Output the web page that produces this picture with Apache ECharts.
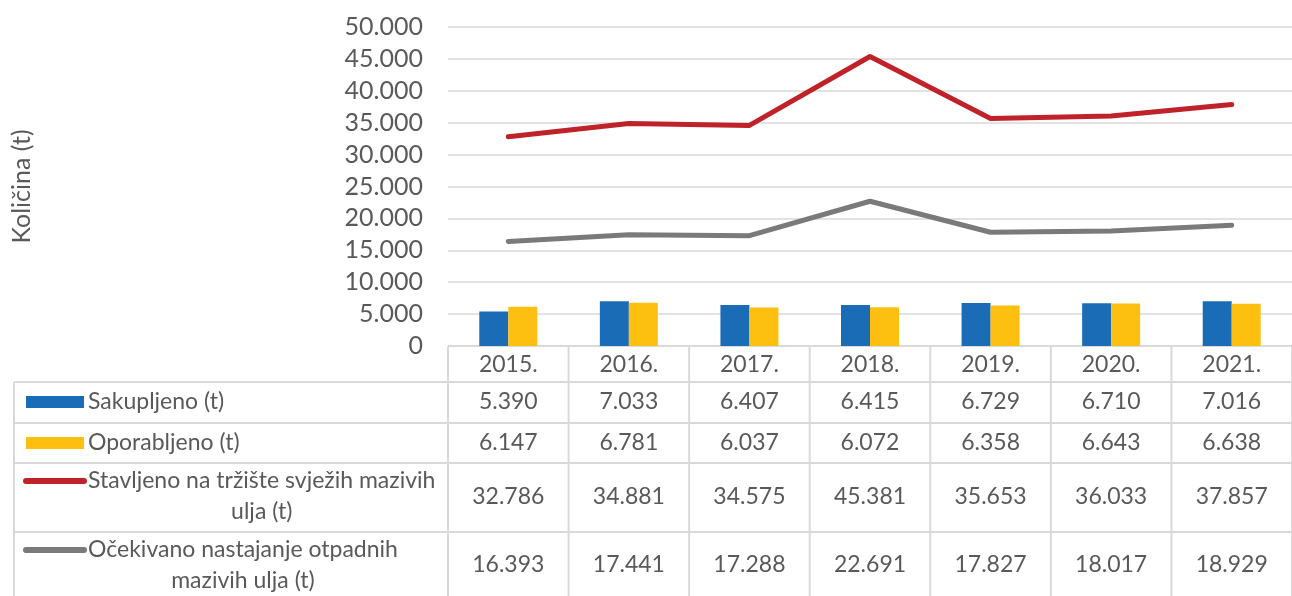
<!DOCTYPE html>
<html>
<head>
<meta charset="utf-8">
<script src="https://cdn.jsdelivr.net/npm/echarts@6/dist/echarts.min.js"></script>
<style>
  html, body { margin: 0; padding: 0; background: #fff; }
  #main { width: 1292px; height: 596px; }
</style>
</head>
<body>
<div id="main"></div>
<script>
// podaci
const years = ['2015.', '2016.', '2017.', '2018.', '2019.', '2020.', '2021.'];
const sakupljeno = [5390, 7033, 6407, 6415, 6729, 6710, 7016];
const oporabljeno = [6147, 6781, 6037, 6072, 6358, 6643, 6638];
const stavljeno = [32786, 34881, 34575, 45381, 35653, 36033, 37857];
const ocekivano = [16393, 17441, 17288, 22691, 17827, 18017, 18929];

const names = [
  'Sakupljeno (t)',
  'Oporabljeno (t)',
  'Stavljeno na tržište svježih mazivih\nulja (t)',
  'Očekivano nastajanje otpadnih\nmazivih ulja (t)'
];

const FONT = 'Lato, "Noto Sans", sans-serif';
const TXT = '#595959';
const LINE = '#d9d9d9';
const colors = ['#1b6cb7', '#fec010', '#c0222a', '#7a7a7a'];
const TSIZE = 23;

// hrvatski zapis brojeva: točka kao razdjelnik tisućica
function fmt(v) {
  return String(v).replace(/\B(?=(\d{3})+(?!\d))/g, '.');
}

const myChart = echarts.init(document.getElementById('main'), null, {renderer: 'canvas'});

const option = {
  animation: false,
  grid: {left: 448, right: -6, top: 27, height: 319},
  xAxis: {
    type: 'category',
    data: years,
    axisLine: {show: false},
    axisTick: {show: false},
    axisLabel: {color: TXT, fontSize: TSIZE, fontFamily: FONT, margin: 7}
  },
  yAxis: {
    type: 'value',
    min: 0,
    max: 50000,
    interval: 5000,
    name: 'Količina (t)',
    nameLocation: 'middle',
    nameRotate: 90,
    nameGap: 414,
    nameTextStyle: {color: TXT, fontSize: 25, fontFamily: FONT},
    axisLine: {show: false},
    axisTick: {show: false},
    axisLabel: {color: TXT, fontSize: 25, fontFamily: FONT, margin: 25, formatter: fmt},
    splitLine: {lineStyle: {color: LINE, width: 1.5}}
  },
  series: [
    {name: names[0], type: 'bar', data: sakupljeno, barWidth: 29, barGap: '0%',
      itemStyle: {color: colors[0]}},
    {name: names[1], type: 'bar', data: oporabljeno, barWidth: 29, barGap: '0%',
      itemStyle: {color: colors[1]}},
    {name: names[2], type: 'line', data: stavljeno, showSymbol: false,
      lineStyle: {color: colors[2], width: 5, cap: 'round', join: 'round'}},
    {name: names[3], type: 'line', data: ocekivano, showSymbol: false,
      lineStyle: {color: colors[3], width: 5, cap: 'round', join: 'round'}}
  ]
};
myChart.setOption(option);

// tablica podataka ispod grafa
function drawTable() {
  const xs = years.map((_, i) => myChart.convertToPixel({xAxisIndex: 0}, i));
  const band = xs[1] - xs[0];
  const x0 = xs[0] - band / 2;
  const rowY = [346, 382, 423, 463, 532, 600];
  const firstLineY = [402, 443, 481, 550];
  const valueY = [402, 443, 497, 565];
  const rowData = [sakupljeno, oporabljeno, stavljeno, ocekivano];
  const font = TSIZE + 'px ' + FONT;
  const els = [];

  const ctx = document.createElement('canvas').getContext('2d');
  ctx.font = font;

  // horizontalne linije
  els.push({type: 'line', shape: {x1: x0, y1: rowY[0], x2: 1300, y2: rowY[0]},
    style: {stroke: LINE, lineWidth: 2}});
  for (let r = 1; r < rowY.length - 1; r++) {
    els.push({type: 'line', shape: {x1: 14, y1: rowY[r], x2: 1300, y2: rowY[r]},
      style: {stroke: LINE, lineWidth: 2}});
  }
  // vertikalne linije
  els.push({type: 'line', shape: {x1: 14, y1: rowY[1], x2: 14, y2: 600},
    style: {stroke: LINE, lineWidth: 2}});
  for (let k = 0; k <= years.length; k++) {
    const x = x0 + k * band;
    els.push({type: 'line', shape: {x1: x, y1: rowY[0], x2: x, y2: 600},
      style: {stroke: LINE, lineWidth: 2}});
  }

  for (let r = 0; r < 4; r++) {
    // ključ legende
    if (r < 2) {
      els.push({type: 'rect', shape: {x: 26, y: firstLineY[r] - 6, width: 58, height: 12},
        style: {fill: colors[r]}});
    } else {
      els.push({type: 'line', shape: {x1: 26, y1: firstLineY[r], x2: 84, y2: firstLineY[r]},
        style: {stroke: colors[r], lineWidth: 6, lineCap: 'round'}});
    }
    const lines = names[r].split('\n');
    const w = Math.max(...lines.map(l => ctx.measureText(l).width));
    const multi = lines.length > 1;
    els.push({type: 'text', x: multi ? 88 + w / 2 : 88, y: multi ? firstLineY[r] + 15.5 : firstLineY[r],
      style: {text: names[r], fill: TXT, font: font,
        align: multi ? 'center' : 'left', verticalAlign: 'middle', lineHeight: 31}});
    // vrijednosti
    rowData[r].forEach((v, i) => {
      els.push({type: 'text', x: xs[i], y: valueY[r],
        style: {text: fmt(v), fill: TXT, font: font, align: 'center', verticalAlign: 'middle'}});
    });
  }
  myChart.setOption({graphic: {elements: els}});
}
drawTable();
</script>
</body>
</html>
